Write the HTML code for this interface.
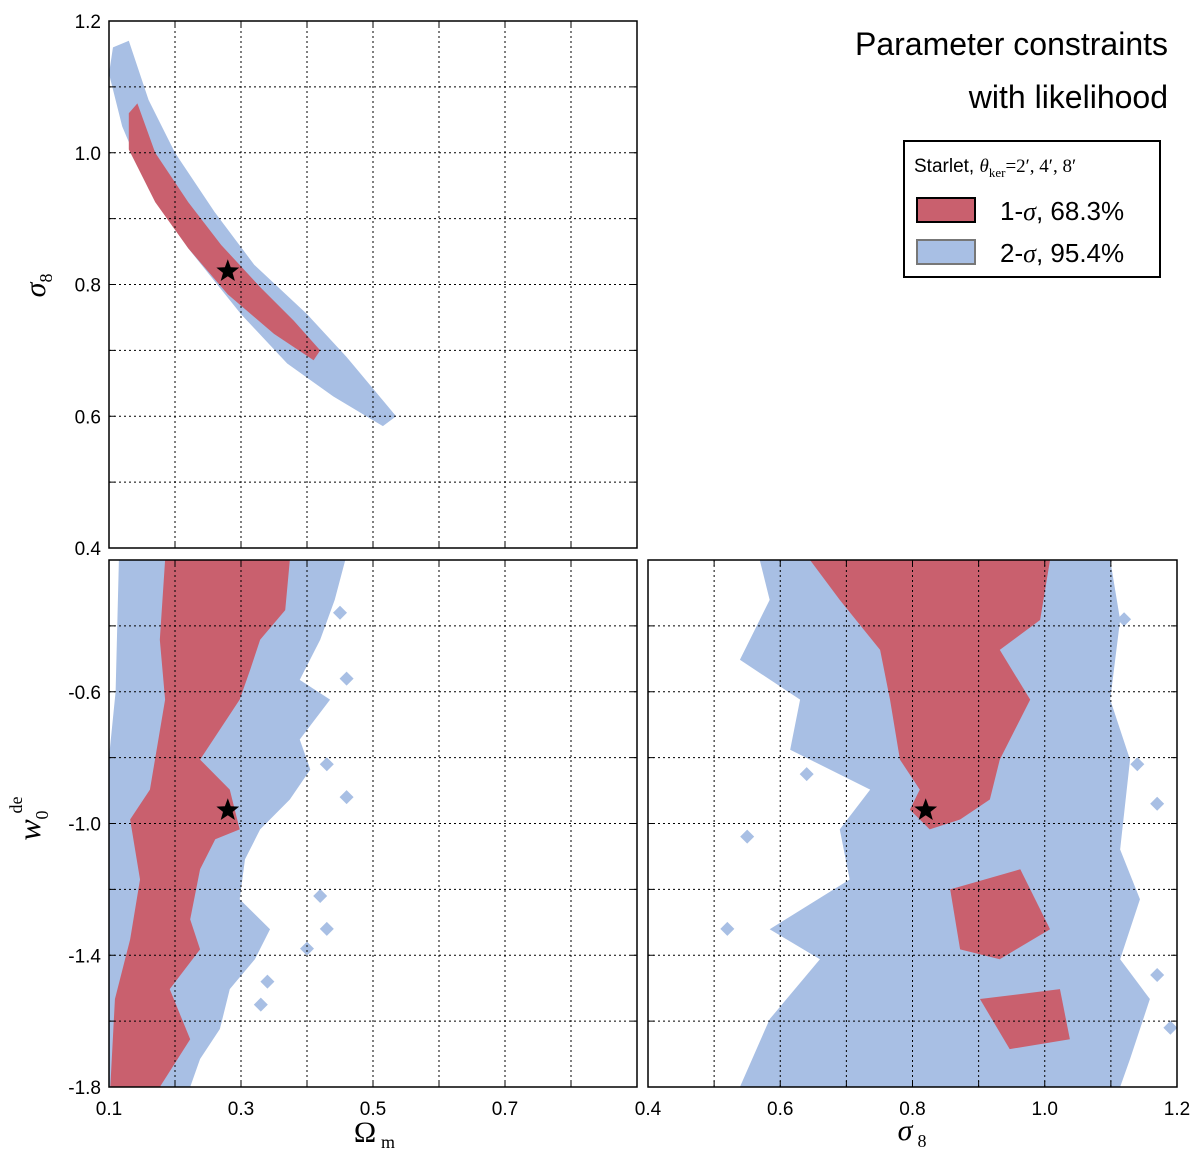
<!DOCTYPE html>
<html><head><meta charset="utf-8"><style>
body{margin:0;background:#fff;}
svg{display:block;font-family:"Liberation Sans",sans-serif;}
</style></head><body>
<svg id="chart" width="1200" height="1168" viewBox="0 0 1200 1168"></svg>
<script>
// ---- data ----
const topXTicks = [0.1,0.3,0.5,0.7,0.9];
const s8Ticks = [0.4,0.6,0.8,1.0,1.2];
const wTicks = [-1.8,-1.4,-1.0,-0.6];
const omTicksBottom = [0.1,0.3,0.5,0.7];
const s8TicksBottom = [0.4,0.6,0.8,1.0,1.2];
const topBlue = [[0.106,1.16],[0.13,1.17],[0.16,1.08],[0.20,1.0],[0.26,0.91],[0.32,0.83],[0.40,0.755],[0.46,0.69],[0.535,0.60],[0.515,0.585],[0.44,0.63],[0.37,0.68],[0.30,0.755],[0.22,0.855],[0.16,0.945],[0.12,1.04],[0.10,1.12]];
const topRed = [[0.13,1.06],[0.143,1.075],[0.17,1.00],[0.22,0.925],[0.27,0.86],[0.33,0.795],[0.38,0.745],[0.42,0.70],[0.41,0.685],[0.35,0.725],[0.28,0.785],[0.22,0.855],[0.17,0.925],[0.13,1.005]];
const topStar = [0.28,0.82];
const blBlue = [[0.115,-0.2],[0.458,-0.2],[0.442,-0.321],[0.420,-0.442],[0.389,-0.564],[0.435,-0.624],[0.389,-0.745],[0.405,-0.836],[0.374,-0.927],[0.329,-1.018],[0.306,-1.109],[0.298,-1.230],[0.344,-1.321],[0.321,-1.412],[0.283,-1.503],[0.268,-1.624],[0.238,-1.715],[0.223,-1.8],[0.1,-1.8],[0.1,-0.8],[0.11,-0.6]];
const blRed = [[0.185,-0.2],[0.374,-0.2],[0.367,-0.352],[0.329,-0.442],[0.314,-0.533],[0.298,-0.624],[0.268,-0.715],[0.238,-0.806],[0.283,-0.897],[0.298,-1.018],[0.261,-1.048],[0.238,-1.139],[0.223,-1.291],[0.238,-1.382],[0.192,-1.503],[0.223,-1.655],[0.177,-1.8],[0.102,-1.8],[0.109,-1.533],[0.132,-1.352],[0.147,-1.170],[0.132,-0.988],[0.162,-0.897],[0.185,-0.624],[0.177,-0.442]];
const blBlobs = [[0.46,-0.56],[0.43,-0.82],[0.46,-0.92],[0.42,-1.22],[0.43,-1.32],[0.40,-1.38],[0.34,-1.48],[0.36,-0.48],[0.45,-0.36],[0.33,-1.55]];
const blStar = [0.28,-0.96];
const brBlue = [[0.569,-0.2],[1.099,-0.2],[1.114,-0.382],[1.099,-0.624],[1.129,-0.806],[1.114,-1.079],[1.144,-1.230],[1.114,-1.412],[1.159,-1.533],[1.129,-1.715],[1.114,-1.8],[0.539,-1.8],[0.584,-1.594],[0.660,-1.412],[0.584,-1.321],[0.705,-1.170],[0.690,-1.018],[0.736,-0.897],[0.615,-0.776],[0.630,-0.624],[0.539,-0.503],[0.584,-0.321]];
const brRed1 = [[0.645,-0.2],[1.008,-0.2],[0.993,-0.382],[0.932,-0.473],[0.978,-0.624],[0.932,-0.806],[0.917,-0.927],[0.872,-0.988],[0.826,-1.018],[0.796,-0.958],[0.811,-0.897],[0.781,-0.806],[0.766,-0.624],[0.751,-0.473],[0.690,-0.321]];
const brRed2 = [[0.857,-1.2],[0.963,-1.139],[1.008,-1.321],[0.932,-1.412],[0.872,-1.382]];
const brRed3 = [[0.902,-1.533],[1.023,-1.503],[1.038,-1.655],[0.947,-1.685]];
const brBlobs = [[1.17,-0.94],[1.14,-0.82],[1.12,-0.38],[0.52,-1.32],[0.55,-1.04],[1.17,-1.46],[0.64,-0.85],[1.19,-1.62]];
const brStar = [0.82,-0.96];

const RED="#c9606e", BLUE="#a8bfe4";
const NS="http://www.w3.org/2000/svg";
const svg=document.getElementById('chart');
function el(tag,attrs,parent){const e=document.createElementNS(NS,tag);for(const k in attrs)e.setAttribute(k,attrs[k]);(parent||svg).appendChild(e);return e;}
function lin(d0,d1,r0,r1){return v=>r0+(v-d0)/(d1-d0)*(r1-r0);}

const panels=[
 {name:'top-panel',x0:109,x1:637,y0:21,y1:548,xd:[0.1,0.9],yd:[0.4,1.2],xstep:0.1,ystep:0.1},
 {name:'bottom-left-panel',x0:109,x1:637,y0:560,y1:1087,xd:[0.1,0.9],yd:[-1.8,-0.2],xstep:0.1,ystep:0.2},
 {name:'bottom-right-panel',x0:648,x1:1177,y0:560,y1:1087,xd:[0.4,1.2],yd:[-1.8,-0.2],xstep:0.1,ystep:0.2}
];
panels.forEach(p=>{p.sx=lin(p.xd[0],p.xd[1],p.x0,p.x1);p.sy=lin(p.yd[0],p.yd[1],p.y1,p.y0);});

function poly(p,pts,fill,name){
 const g=el('polygon',{points:pts.map(q=>p.sx(q[0])+','+p.sy(q[1])).join(' '),fill:fill,'clip-path':'url(#clip-'+p.name+')'});
 
 
}
function blob(p,pt,fill,name){
 const x=p.sx(pt[0]),y=p.sy(pt[1]),r=7;
 const g=el('polygon',{points:`${x},${y-r} ${x+r},${y} ${x},${y+r} ${x-r},${y}`,fill:fill,'clip-path':'url(#clip-'+p.name+')'});
 
 
}
function star(p,pt){
 const cx=p.sx(pt[0]),cy=p.sy(pt[1]);let s=[];
 for(let i=0;i<10;i++){const r=i%2?5:12;const a=-Math.PI/2+i*Math.PI/5;s.push((cx+r*Math.cos(a)).toFixed(1)+','+(cy+r*Math.sin(a)).toFixed(1));}
 const g=el('polygon',{points:s.join(' '),fill:'#000'});
 
 
}
const defs=el('defs',{});
panels.forEach(p=>{const c=el('clipPath',{id:'clip-'+p.name},defs);el('rect',{x:p.x0,y:p.y0,width:p.x1-p.x0,height:p.y1-p.y0},c);});

const P0=panels[0],P1=panels[1],P2=panels[2];
poly(P0,topBlue,BLUE,'contour-2sigma');poly(P0,topRed,RED,'contour-1sigma');
poly(P1,blBlue,BLUE,'contour-2sigma');blBlobs.forEach(b=>blob(P1,b,BLUE,'contour-2sigma-island'));poly(P1,blRed,RED,'contour-1sigma');
poly(P2,brBlue,BLUE,'contour-2sigma');brBlobs.forEach(b=>blob(P2,b,BLUE,'contour-2sigma-island'));
poly(P2,brRed1,RED,'contour-1sigma');poly(P2,brRed2,RED,'contour-1sigma');poly(P2,brRed3,RED,'contour-1sigma');

// grid, frame
panels.forEach(p=>{
 for(let v=p.xd[0]+p.xstep;v<p.xd[1]-1e-6;v+=p.xstep){const x=p.sx(v);el('line',{x1:x,x2:x,y1:p.y0,y2:p.y1,stroke:'#000','stroke-width':1,'stroke-dasharray':'2,3'});el('line',{x1:x,x2:x,y1:p.y1,y2:p.y1-6,stroke:'#000'});el('line',{x1:x,x2:x,y1:p.y0,y2:p.y0+6,stroke:'#000'});}
 for(let v=p.yd[0]+p.ystep;v<p.yd[1]-1e-6;v+=p.ystep){const y=p.sy(v);el('line',{x1:p.x0,x2:p.x1,y1:y,y2:y,stroke:'#000','stroke-width':1,'stroke-dasharray':'2,3'});el('line',{x1:p.x0,x2:p.x0+6,y1:y,y2:y,stroke:'#000'});el('line',{x1:p.x1,x2:p.x1-6,y1:y,y2:y,stroke:'#000'});}
 const r=el('rect',{x:p.x0,y:p.y0,width:p.x1-p.x0,height:p.y1-p.y0,fill:'none',stroke:'#000','stroke-width':1.5});
 
 
});
star(P0,topStar);star(P1,blStar);star(P2,brStar);

function txt(x,y,s,size,anchor,name,extra){const t=el('text',Object.assign({x:x,y:y,'font-size':size,'text-anchor':anchor||'middle',fill:'#000'},extra||{}));t.textContent=s;return t;}
s8Ticks.forEach(v=>txt(P0.x0-8,P0.sy(v)+7,v.toFixed(1),19,'end','y-tick-label'));
wTicks.forEach(v=>txt(P1.x0-8,P1.sy(v)+7,v.toFixed(1),19,'end','y-tick-label'));
omTicksBottom.forEach(v=>txt(P1.sx(v),P1.y1+28,v.toFixed(1),19,'middle','x-tick-label'));
s8TicksBottom.forEach(v=>txt(P2.sx(v),P2.y1+28,v.toFixed(1),19,'middle','x-tick-label'));

// axis titles
const serif={'font-family':'"Liberation Serif",serif','font-style':'italic'};
let t=txt(45,290,'σ',30,'middle','y-axis-title-sigma8',Object.assign({transform:'rotate(-90 45 290)'},serif));
t=txt(52,278,'8',18,'middle','y-axis-title-sub',{transform:'rotate(-90 52 278)','font-family':'"Liberation Serif",serif'});
t=txt(40,830,'w',32,'middle','y-axis-title-w0',Object.assign({transform:'rotate(-90 40 830)'},serif));
txt(48,815,'0',18,'middle','y-axis-title-sub',{transform:'rotate(-90 48 815)','font-family':'"Liberation Serif",serif'});
txt(22,805,'de',18,'middle','y-axis-title-sup',{transform:'rotate(-90 22 805)','font-family':'"Liberation Serif",serif'});
txt(365,1142,'Ω',30,'middle','x-axis-title-omega-m',{'font-family':'"Liberation Serif",serif'});
txt(388,1148,'m',18,'middle','x-axis-title-sub',{'font-family':'"Liberation Serif",serif'});
txt(905,1140,'σ',30,'middle','x-axis-title-sigma8',serif);
txt(922,1147,'8',18,'middle','x-axis-title-sub',{'font-family':'"Liberation Serif",serif'});

// title
txt(1168,55,'Parameter constraints',32,'end','chart-title-line1');
txt(1168,108,'with likelihood',32,'end','chart-title-line2');

// legend
const lg=el('rect',{x:904,y:141,width:256,height:136,fill:'#fff',stroke:'#000','stroke-width':2});


const lt=txt(914,172,'',19,'start','legend-title');
lt.innerHTML='Starlet, <tspan font-family="Liberation Serif,serif" font-style="italic">θ</tspan><tspan font-family="Liberation Serif,serif" font-size="13" dy="5">ker</tspan><tspan font-family="Liberation Serif,serif" dy="-5">=2′, 4′, 8′</tspan>';
let r1=el('rect',{x:917,y:198,width:58,height:24,fill:RED,stroke:'#000','stroke-width':2});


txt(1000,220,'1-',26,'start','legend-entry-1sigma').innerHTML='1-<tspan font-family="Liberation Serif,serif" font-style="italic">σ</tspan>, 68.3%';
let r2=el('rect',{x:917,y:240,width:58,height:24,fill:BLUE,stroke:'#777','stroke-width':2});


txt(1000,262,'2-',26,'start','legend-entry-2sigma').innerHTML='2-<tspan font-family="Liberation Serif,serif" font-style="italic">σ</tspan>, 95.4%';
</script>
</body></html>
